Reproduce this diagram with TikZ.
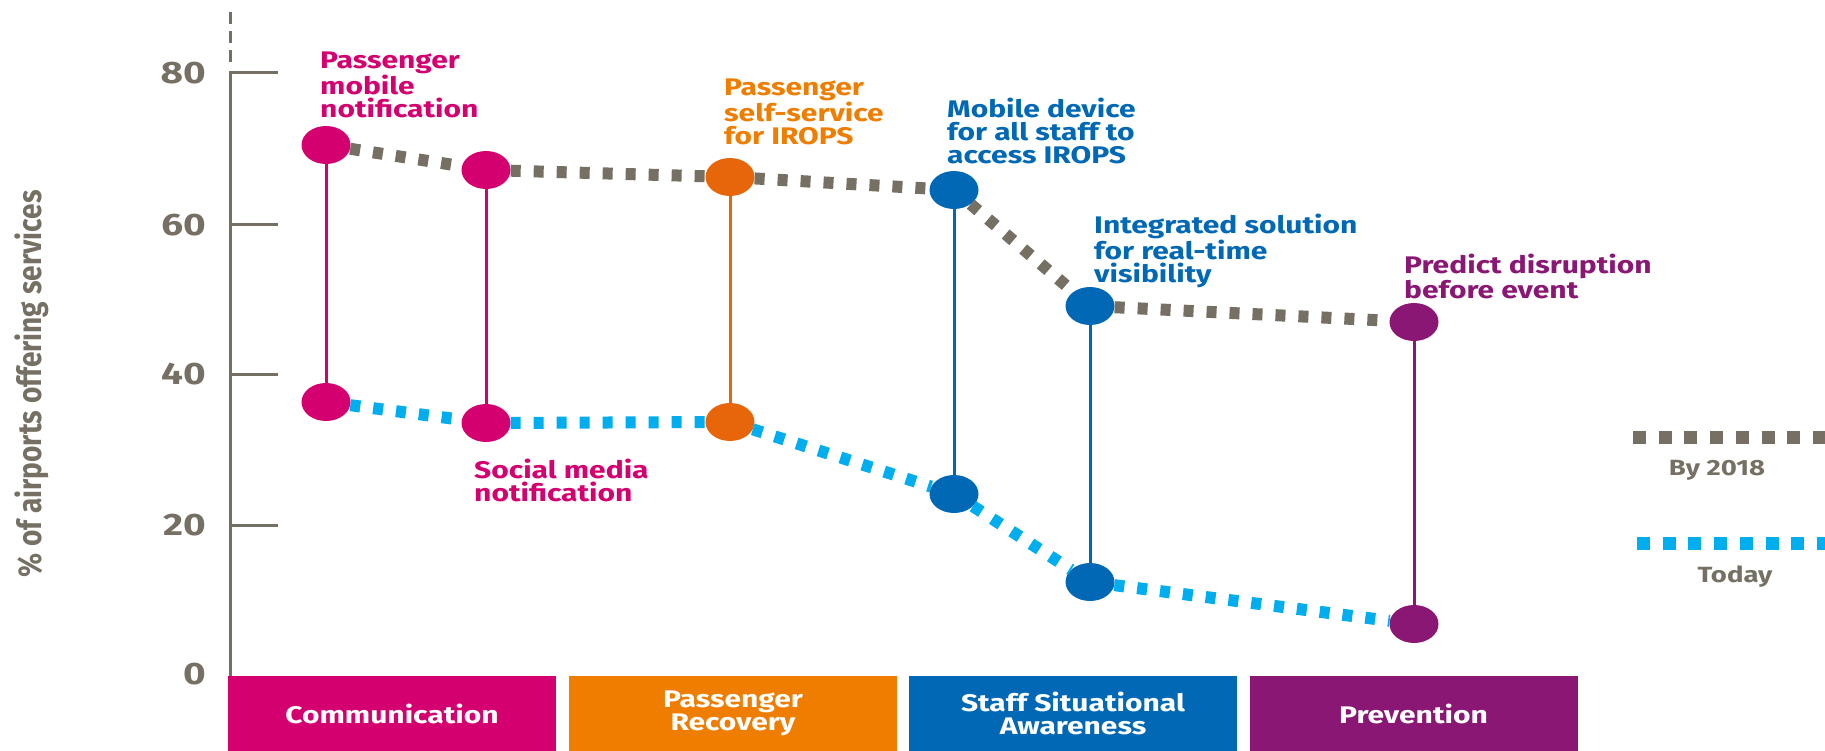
\documentclass[tikz,border=0pt]{standalone}
\usepackage{fontspec}
\setmainfont{Fira Sans}[FakeStretch=1.25]
\newfontfamily\titlefont{Fira Sans}[FakeStretch=0.85]
\usepackage{tikz}
\usetikzlibrary{shapes.geometric}
\definecolor{axisgrey}{RGB}{117,112,99}
\definecolor{commpink}{RGB}{213,0,111}
\definecolor{recorange}{RGB}{238,125,0}
\definecolor{dotorange}{RGB}{232,102,10}
\definecolor{staffblue}{RGB}{0,104,180}
\definecolor{prevpurple}{RGB}{139,23,116}
\definecolor{todaycyan}{RGB}{0,174,239}

\begin{document}
\begin{tikzpicture}
    [line join=miter,x=1pt,y=-1pt,
     every node/.style={font=\bfseries\fontsize{24}{23}\selectfont},
     dot/.style={ellipse,minimum width=49pt,minimum height=38pt,inner sep=0pt},
     stem/.style={line width=3pt},
     by2018/.style={axisgrey,line width=12pt,dash pattern=on 10pt off 13pt},
     today/.style={todaycyan,line width=12pt,dash pattern=on 10pt off 13pt},
     catbox/.style={minimum width=328pt,minimum height=75pt,inner sep=0pt,text=white,align=center},
     lbl/.style={anchor=north west,inner sep=0pt,align=left},
     ticklbl/.style={anchor=east,inner sep=0pt,text=axisgrey,font=\bfseries\fontsize{31}{31}\selectfont}]
\useasboundingbox (0,0) rectangle (1825,751);
%axis with ticks
\draw[axisgrey,line width=3pt,dash pattern=on 12pt off 7pt] (230,12) -- (230,66);
\draw[axisgrey,line width=3pt] (278,73) -- (230,73) -- (230,676);
\draw[axisgrey,line width=3pt] (230,225) -- (278,225);
\draw[axisgrey,line width=3pt] (230,374) -- (278,374);
\draw[axisgrey,line width=3pt] (230,525) -- (278,525);
\node[ticklbl] (t80) at (206,73) {80};
\node[ticklbl] (t60) at (206,225) {60};
\node[ticklbl] (t40) at (206,374) {40};
\node[ticklbl] (t20) at (206,525) {20};
\node[ticklbl] (t0) at (206,674) {0};
\node[rotate=90,text=axisgrey,font=\titlefont\bfseries\fontsize{33}{33}\selectfont] (ytitle) at (32,384) {\% of airports offering services};

%markers, by 2018 (top) and today (bottom)
\node[dot,fill=commpink] (mob18) at (326,145) {};
\node[dot,fill=commpink] (mobnow) at (326,402) {};
\node[dot,fill=commpink] (soc18) at (486,170) {};
\node[dot,fill=commpink] (socnow) at (486,423) {};
\node[dot,fill=dotorange] (self18) at (730,177) {};
\node[dot,fill=dotorange] (selfnow) at (730,422) {};
\node[dot,fill=staffblue] (staff18) at (954,190) {};
\node[dot,fill=staffblue] (staffnow) at (954,494) {};
\node[dot,fill=staffblue] (integ18) at (1090,306) {};
\node[dot,fill=staffblue] (integnow) at (1090,582) {};
\node[dot,fill=prevpurple] (pred18) at (1414,322) {};
\node[dot,fill=prevpurple] (prednow) at (1414,624) {};

\draw[stem,commpink] (mob18) -- (mobnow);
\draw[stem,commpink] (soc18) -- (socnow);
\draw[stem,dotorange] (self18) -- (selfnow);
\draw[stem,staffblue] (staff18) -- (staffnow);
\draw[stem,staffblue] (integ18) -- (integnow);
\draw[stem,prevpurple] (pred18) -- (prednow);

\draw[by2018] (mob18) -- (soc18) -- (self18) -- (staff18) -- (integ18) -- (pred18);
\draw[today] (mobnow) -- (socnow) -- (selfnow) -- (staffnow) -- (integnow) -- (prednow);

%labels
\node[lbl,text=commpink] (mobtxt) at (320,52) {Passenger\\mobile\\notification};
\node[lbl,text=commpink] (soctxt) at (474,459) {Social media\\notification};
\node[lbl,text=recorange] (selftxt) at (724,79) {Passenger\\self-service\\for IROPS};
\node[lbl,text=staffblue] (stafftxt) at (947,98) {Mobile device\\for all staff to\\access IROPS};
\node[lbl,text=staffblue] (integtxt) at (1094,214) {Integrated solution\\for real-time\\visibility};
\node[lbl,text=prevpurple] (predtxt) at (1404,254) {Predict disruption\\before event};

%category boxes
\node[catbox,fill=commpink] (comm) at (392,713.5) {Communication};
\node[catbox,fill=recorange] (recov) at (733,713.5) {Passenger\\Recovery};
\node[catbox,fill=staffblue] (aware) at (1073,713.5) {Staff Situational\\Awareness};
\node[catbox,fill=prevpurple] (prev) at (1413.5,713.5) {Prevention};

%key
\coordinate (key18) at (1633,437);
\coordinate (key18end) at (1825,437);
\coordinate (keynow) at (1637,543);
\coordinate (keynowend) at (1825,543);
\draw[by2018,line width=13pt,dash pattern=on 13pt off 12.7pt] (key18) -- (key18end);
\draw[today,line width=13pt,dash pattern=on 13pt off 12.7pt] (keynow) -- (keynowend);
\node[text=axisgrey,font=\bfseries\fontsize{22}{22}\selectfont] (key18txt) at (1717,470) {By 2018};
\node[text=axisgrey,font=\bfseries\fontsize{22}{22}\selectfont] (keynowtxt) at (1735,577) {Today};
\end{tikzpicture}
\end{document}
